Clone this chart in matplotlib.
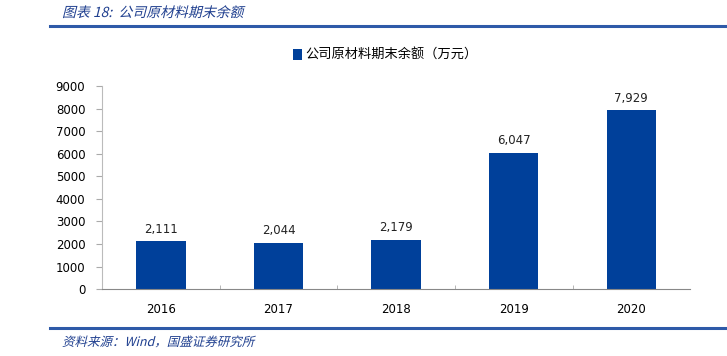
import matplotlib.pyplot as plt
from matplotlib.patches import PathPatch
from matplotlib.textpath import TextPath
from matplotlib.font_manager import FontProperties
from matplotlib.transforms import Affine2D, IdentityTransform

plt.rcParams['font.family'] = ['DejaVu Sans', 'Noto Sans CJK SC']

# data
years = ['2016', '2017', '2018', '2019', '2020']
values = [2111, 2044, 2179, 6047, 7929]
yticks = [0, 1000, 2000, 3000, 4000, 5000, 6000, 7000, 8000, 9000]

bar_color = '#00409A'
head_color = '#1F3F8F'
cjk = ['Noto Sans CJK SC', 'DejaVu Sans']
DPI = 100

fig = plt.figure(figsize=(7.27, 3.56), dpi=DPI)
ax = fig.add_axes([0.1403, 0.188, 0.809, 0.570])

x = range(len(years))
bars = ax.bar(x, values, width=0.42, color=bar_color, zorder=2)
for xi, v in zip(x, values):
    ax.text(xi, v + 250, f'{v:,}', ha='center', va='bottom', fontsize=8.5, color='#222222')

ax.set_xlim(-0.5, len(years) - 0.5)
ax.set_ylim(0, 9000)
ax.set_yticks(yticks)
ax.set_xticks(list(x))
ax.set_xticklabels(years)
ax.set_xticks([i + 0.5 for i in range(len(years) - 1)], minor=True)
ax.tick_params(axis='x', which='major', length=0, pad=10, labelsize=8.5)
ax.tick_params(axis='x', which='minor', direction='in', length=3, color='#aaaaaa')
ax.tick_params(axis='y', direction='out', length=4, color='#aaaaaa', labelsize=8.5, pad=8)
for s in ['top', 'right']:
    ax.spines[s].set_visible(False)
ax.spines['left'].set_color('#bbbbbb')
ax.spines['bottom'].set_color('#888888')

fig.legend(handles=[bars], labels=['公司原材料期末余额（万元）'], loc='center',
           bbox_to_anchor=(0.53, 0.845), frameon=False, prop={'family': cjk, 'size': 9.5},
           handlelength=0.7, handleheight=0.9, handletextpad=0.2)


def slanted_text(s, x_px, y_px, size):
    # fake italic: CJK font has no italic face, so skew the glyph outlines
    tp = TextPath((0, 0), s, size=size, prop=FontProperties(family=cjk))
    tr = Affine2D().skew_deg(14, 0).scale(DPI / 72).translate(x_px, y_px)
    fig.add_artist(PathPatch(tp, transform=tr + IdentityTransform(), color=head_color, lw=0))


# header and footer
slanted_text('图表 18:  公司原材料期末余额', 62, 356 - 17, 10)
fig.add_artist(plt.Line2D([0.069, 1.0], [0.928, 0.928], color='#2E5AA8', lw=2.2))
fig.add_artist(plt.Line2D([0.069, 1.0], [0.078, 0.078], color='#2E5AA8', lw=2.2))
slanted_text('资料来源：Wind，国盛证券研究所', 62, 356 - 346, 9)

fig.savefig('out.png', dpi=DPI)
